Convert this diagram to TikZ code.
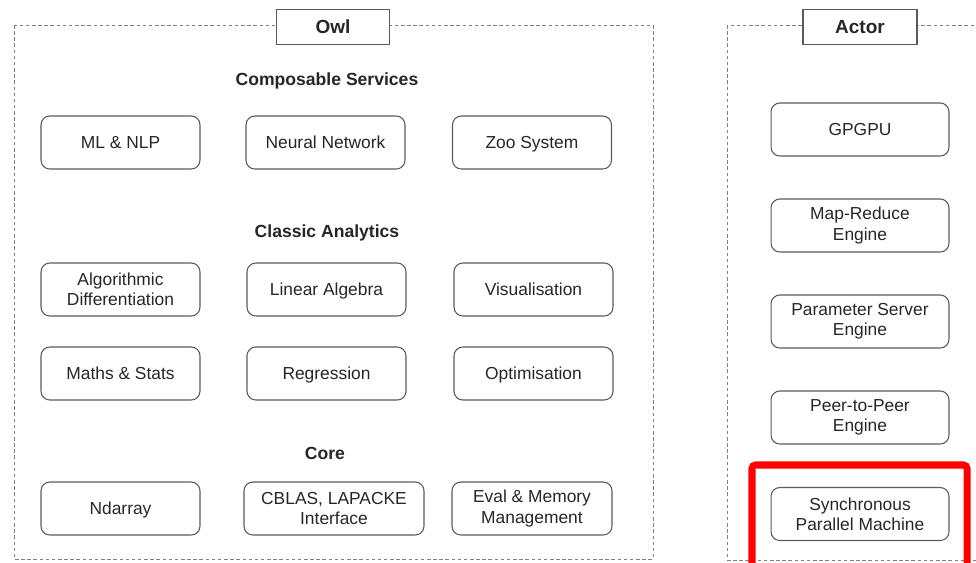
\documentclass[tikz,border=0pt]{standalone}
\usepackage{fontspec}
\setmainfont{Liberation Sans}
\usepackage{tikz}
\definecolor{boxline}{HTML}{5A5A5A}
\definecolor{dashline}{HTML}{808080}
\definecolor{highlight}{HTML}{FF0000}

\begin{document}
\begin{tikzpicture}[x=0.02cm, y=-0.02cm,
  every node/.style={font=\fontsize{9.9}{11.5}\selectfont, text=black!85},
  module/.style={draw=boxline, line width=0.6pt, rounded corners=5pt, minimum width=3.18cm, minimum height=1.06cm, align=center, inner sep=2pt},
  oneline/.style={module, text height=7.2pt, text depth=0pt},
  title/.style={draw=boxline, line width=0.6pt, fill=white, minimum width=2.26cm, minimum height=0.7cm, font=\fontsize{10.8}{12}\selectfont\bfseries},
  heading/.style={font=\fontsize{10}{12}\selectfont\bfseries},
  group/.style={draw=dashline, line width=0.5pt, dash pattern=on 2pt off 1.5pt}]
            \useasboundingbox (0,0) rectangle (976,562);

            % dashed frames
            \draw[group] (14,25) rectangle (653,559);
            \draw[group] (727,25) rectangle (995,560);
            \node[title] (owl) at (333,27) {Owl};
            \node[title, minimum width=2.28cm] (actor) at (860,27) {Actor};

            % Owl
            \node[heading] (composable) at (327,81) {Composable Services};
            \node[oneline] (mlnlp) at (120.5,142.5) {ML \& NLP};
            \node[oneline] (neural) at (325.5,142.5) {Neural Network};
            \node[oneline] (zoo) at (532,142.5) {Zoo System};

            \node[heading] (classic) at (327,233) {Classic Analytics};
            \node[module] (algodiff) at (120.5,289.5) {Algorithmic\\Differentiation};
            \node[oneline] (linalg) at (326.5,289.5) {Linear Algebra};
            \node[oneline] (visual) at (533.5,289.5) {Visualisation};
            \node[oneline] (maths) at (120.5,373.5) {Maths \& Stats};
            \node[oneline] (regress) at (326.5,373.5) {Regression};
            \node[oneline] (optim) at (533.5,373.5) {Optimisation};

            \node[heading] (core) at (325,453) {Core};
            \node[oneline] (ndarray) at (120.5,508.5) {Ndarray};
            \node[module, minimum width=3.6cm] (cblas) at (334,508.5) {CBLAS, LAPACKE\\Interface};
            \node[module, minimum width=3.2cm] (evalmem) at (532,508.5) {Eval \& Memory\\Management};

            % Actor
            \node[oneline, minimum width=3.56cm] (gpgpu) at (860,129.5) {GPGPU};
            \node[module, minimum width=3.56cm] (mapred) at (860,225.5) {Map-Reduce\\Engine};
            \node[module, minimum width=3.56cm] (paramsrv) at (860,321.5) {Parameter Server\\Engine};
            \node[module, minimum width=3.56cm] (p2p) at (860,417.5) {Peer-to-Peer\\Engine};
            \node[module, minimum width=3.56cm] (sync) at (860,514) {Synchronous\\Parallel Machine};

            \draw[highlight, line width=4pt, rounded corners=2pt] (752,465) rectangle (967,580);
        \end{tikzpicture}
\end{document}
